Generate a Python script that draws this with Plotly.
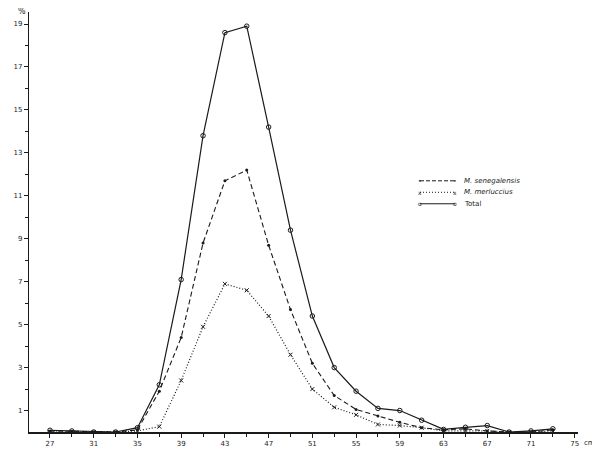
import plotly.graph_objects as go

# Length classes (cm)
lengths = [27, 29, 31, 33, 35, 37, 39, 41, 43, 45, 47, 49, 51, 53, 55, 57, 59, 61, 63, 65, 67, 69, 71, 73]

# Percentages
senegalensis = [0.05, 0.03, 0.0, 0.0, 0.1, 1.9, 4.4, 8.8, 11.7, 12.2, 8.7, 5.7, 3.2, 1.7,
                1.05, 0.75, 0.45, 0.2, 0.1, 0.15, 0.05, 0.0, 0.0, 0.1]
merluccius = [0.0, 0.0, 0.0, 0.0, 0.05, 0.25, 2.4, 4.9, 6.9, 6.6, 5.4, 3.6, 2.0, 1.15,
              0.8, 0.35, 0.3, 0.2, 0.05, 0.05, 0.05, 0.0, 0.0, 0.05]
total = [0.08, 0.05, 0.0, 0.0, 0.2, 2.2, 7.1, 13.8, 18.6, 18.9, 14.2, 9.4, 5.4, 3.0,
         1.9, 1.1, 1.0, 0.55, 0.12, 0.22, 0.3, 0.0, 0.05, 0.15]

series_names = ["<i>M. senegalensis</i>", "<i>M. merluccius</i>", "Total"]

x_tick_vals = [27, 31, 35, 39, 43, 47, 51, 55, 59, 63, 67, 71, 75]
x_minor_vals = [29, 33, 37, 41, 45, 49, 53, 57, 61, 65, 69, 73]
y_tick_vals = [1, 3, 5, 7, 9, 11, 13, 15, 17, 19]
y_minor_vals = [2, 4, 6, 8, 10, 12, 14, 16, 18]

ink = "#1a1a1a"
W, H = 600, 458
OFF = 8  # default page body margin offsets the figure on the page
# desired plot box in page pixels: left 29, right 578, top 12, bottom 432.5
ML, MR, MT, MB = 29 - OFF, W + OFF - 578, 12 - OFF, H + OFF - 432.5
PW, PH = W - ML - MR, H - MT - MB


def px_to_paper(px, py):
    """page pixel -> paper coordinates"""
    return (px - OFF - ML) / PW, (H - MB - (py - OFF)) / PH


fig = go.Figure()
fig.add_trace(go.Scatter(
    x=lengths, y=senegalensis, mode="lines+markers", name=series_names[0],
    line=dict(color=ink, width=1.1, dash="5px,3px"),
    marker=dict(symbol="circle", size=3, color=ink)))
fig.add_trace(go.Scatter(
    x=lengths, y=merluccius, mode="lines+markers", name=series_names[1],
    line=dict(color=ink, width=1.2, dash="1px,2px"),
    marker=dict(symbol="x-thin", size=4, line=dict(color=ink, width=1))))
fig.add_trace(go.Scatter(
    x=lengths, y=total, mode="lines+markers", name=series_names[2],
    line=dict(color=ink, width=1.2),
    marker=dict(symbol="circle-open", size=4.5, color=ink, line=dict(width=1))))

# Hand-drawn style legend (line samples, end glyphs, labels)
shapes = []
annotations = []
legend_rows = [181, 192.5, 204]
legend_dash = ["4px,2px", "1px,2px", "solid"]
legend_glyph = ["•", "x", "o"]
x0p, x1p, xtp = 420, 455, 462
for name, row, dash, glyph in zip(series_names, legend_rows, legend_dash, legend_glyph):
    ax0, ay = px_to_paper(x0p, row)
    ax1, _ = px_to_paper(x1p, row)
    axt, _ = px_to_paper(xtp, row)
    shapes.append(dict(type="line", xref="paper", yref="paper", x0=ax0, x1=ax1, y0=ay, y1=ay,
                       line=dict(color=ink, width=1, dash=dash)))
    for ex in (ax0, ax1):
        annotations.append(dict(text=glyph, xref="paper", yref="paper", x=ex, y=ay,
                                xanchor="center", yanchor="middle", showarrow=False,
                                font=dict(family="DejaVu Sans", size=6, color=ink)))
    annotations.append(dict(text=name, xref="paper", yref="paper", x=axt, y=ay,
                            xanchor="left", yanchor="middle", showarrow=False,
                            font=dict(family="DejaVu Sans", size=7, color="#222")))

annotations += [
    dict(text="%", xref="paper", yref="paper", x=0, y=1, xanchor="right",
         yanchor="bottom", showarrow=False, xshift=-1, yshift=-6,
         font=dict(family="DejaVu Sans", size=8, color="#222")),
    dict(text="cm", xref="x", yref="paper", x=75, y=0, xanchor="left",
         yanchor="top", showarrow=False, xshift=7, yshift=-5,
         font=dict(family="DejaVu Sans", size=7, color="#222")),
]

axis_font = dict(family="DejaVu Sans", size=7, color="#222")
fig.update_layout(
    width=W, height=H,
    margin=dict(l=ML, r=MR, t=MT, b=MB),
    paper_bgcolor="white", plot_bgcolor="white",
    showlegend=False,
    shapes=shapes,
    annotations=annotations,
    xaxis=dict(range=[25.08, 75.3], showgrid=False, zeroline=False,
               showline=True, linecolor=ink, linewidth=1.5,
               tickmode="array", tickvals=x_tick_vals, ticks="outside", ticklen=4,
               tickcolor=ink, tickfont=axis_font,
               minor=dict(tickmode="array", tickvals=x_minor_vals, ticks="outside",
                          ticklen=3, tickcolor=ink)),
    yaxis=dict(range=[0, 19.56], showgrid=False, zeroline=False,
               showline=True, linecolor=ink, linewidth=1.2,
               tickmode="array", tickvals=y_tick_vals, ticks="outside", ticklen=4,
               tickcolor=ink, tickfont=axis_font,
               minor=dict(tickmode="array", tickvals=y_minor_vals, ticks="outside",
                          ticklen=3, tickcolor=ink)),
)

fig.write_html("out.html")
